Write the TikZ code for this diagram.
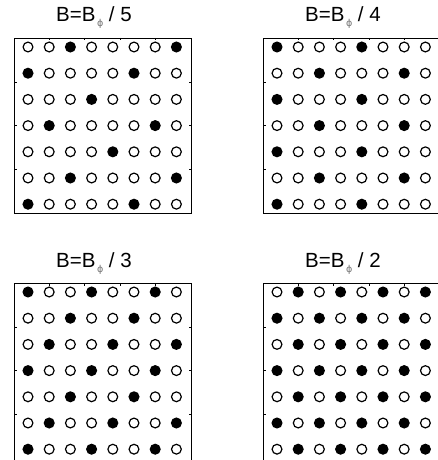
\documentclass[tikz,border=0pt]{standalone}
\usepackage{fontspec}
\setmainfont{Liberation Sans}
\newfontfamily\greekfont{DejaVu Sans}

% subscript phi of the field label
\newcommand{\phisub}{\kern1.5pt\raisebox{-5pt}{\greekfont\fontsize{9.5}{9.5}\selectfont\color{black!55}ϕ}}

% one lattice panel: name, left x, top y, frame height, denominator, rows of sites
\newcommand{\fluxpanel}[6]{%
  \node[paneltitle] (#1-title) at (#2+80,#3-16) {B=B\phisub\ / #5};
  \draw[frame] (#2,#3) rectangle (#2+177,#3+#4);
  \foreach \k in {1,...,4}
    \draw[frame] (#2+35.4*\k,#3) -- ++(0,2.5);
  \foreach \k in {1,...,3} {
    \draw[frame] (#2,#3+43.9*\k) -- ++(2.5,0);
    \draw[frame] (#2+177,#3+43.9*\k) -- ++(-2.5,0);
  }
  \foreach \bits [count=\r from 0] in {#6}
    \foreach \b [count=\c from 0] in \bits
      \node[dot\b] (#1-\r-\c) at (#2+14+21.2*\c,#3+9+26.2*\r) {};
}

\begin{document}
\begin{tikzpicture}[
  x=1pt, y=-1pt,
  paneltitle/.style={anchor=base, inner sep=0pt, font=\fontsize{20.5}{24}\selectfont},
  frame/.style={draw=black, line width=0.8pt},
  site/.style={circle, draw=black, line width=1.2pt, inner sep=0pt, minimum size=9.8pt},
  dot0/.style={site, fill=white},
  dot1/.style={site, fill=black}
]
\clip (0,0) rectangle (438,460);

\fluxpanel{p5}{14}{38}{175.5}{5}{{0,0,1,0,0,0,0,1},{1,0,0,0,0,1,0,0},{0,0,0,1,0,0,0,0},{0,1,0,0,0,0,1,0},{0,0,0,0,1,0,0,0},{0,0,1,0,0,0,0,1},{1,0,0,0,0,1,0,0}}
\fluxpanel{p4}{263}{38}{175.5}{4}{{1,0,0,0,1,0,0,0},{0,0,1,0,0,0,1,0},{1,0,0,0,1,0,0,0},{0,0,1,0,0,0,1,0},{1,0,0,0,1,0,0,0},{0,0,1,0,0,0,1,0},{1,0,0,0,1,0,0,0}}
\fluxpanel{p3}{14}{283}{178}{3}{{1,0,0,1,0,0,1,0},{0,0,1,0,0,1,0,0},{0,1,0,0,1,0,0,1},{1,0,0,1,0,0,1,0},{0,0,1,0,0,1,0,0},{0,1,0,0,1,0,0,1},{1,0,0,1,0,0,1,0}}
\fluxpanel{p2}{263}{283}{178}{2}{{0,1,0,1,0,1,0,1},{1,0,1,0,1,0,1,0},{0,1,0,1,0,1,0,1},{1,0,1,0,1,0,1,0},{0,1,0,1,0,1,0,1},{1,0,1,0,1,0,1,0},{0,1,0,1,0,1,0,1}}
\end{tikzpicture}
\end{document}
